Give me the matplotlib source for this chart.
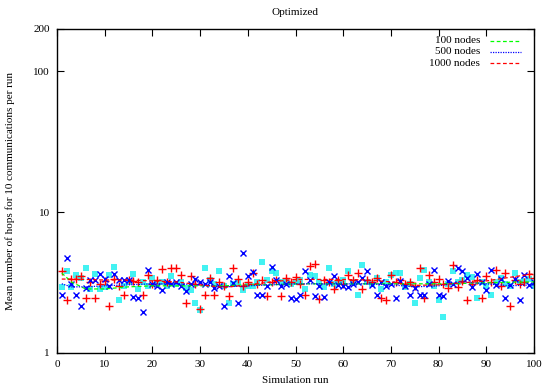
import matplotlib
matplotlib.use("Agg")
import matplotlib.pyplot as plt
from matplotlib.lines import Line2D

plt.rcParams['font.family'] = ['Liberation Serif', 'DejaVu Serif']

runs = list(range(1, 101))

# 1000 nodes (red +)
hops_1000 = [3.82, 2.37, 3.33, 3.33, 3.5, 2.46, 3.2, 2.46, 3.1, 3.25,
             2.16, 3.33, 3.0, 2.57, 3.3, 3.25, 3.2, 2.57, 3.56, 3.1,
             3.3, 3.98, 3.2, 4.0, 4.0, 3.6, 2.25, 3.5, 3.1, 2.05,
             2.57, 3.4, 2.6, 3.2, 3.0, 2.55, 4.0, 3.33, 3.0, 3.2,
             3.7, 3.1, 3.3, 2.55, 3.2, 3.3, 2.55, 3.4, 3.2, 3.45,
             3.1, 2.6, 4.15, 4.3, 2.4, 3.3, 3.2, 2.87, 3.3, 3.1,
             3.6, 3.3, 3.7, 2.84, 3.3, 3.2, 3.4, 2.46, 2.37, 3.6,
             3.2, 3.3, 3.1, 3.2, 3.0, 4.0, 2.46, 3.6, 3.2, 3.35,
             3.1, 2.9, 4.2, 2.94, 3.25, 2.37, 3.1, 3.3, 2.46, 3.5,
             3.2, 3.9, 3.0, 3.7, 2.16, 3.3, 3.1, 3.2, 3.65, 3.4]

# 500 nodes (blue x)
hops_500 = [2.57, 4.75, 3.1, 2.57, 2.16, 2.9, 3.3, 3.3, 3.65, 3.37,
            3.0, 3.65, 3.3, 3.3, 3.3, 2.5, 2.46, 1.97, 3.9, 3.1,
            3.0, 2.8, 3.2, 3.1, 3.2, 3.0, 2.75, 3.1, 3.37, 3.2,
            3.1, 3.2, 2.9, 3.0, 2.17, 3.5, 3.15, 2.25, 5.1, 3.5,
            3.75, 2.6, 2.6, 3.0, 4.1, 3.3, 3.0, 3.1, 2.46, 2.4,
            2.57, 3.8, 3.3, 2.55, 3.0, 2.5, 3.2, 3.5, 3.05, 3.0,
            2.95, 3.1, 3.2, 3.4, 3.85, 3.05, 2.6, 3.2, 3.0, 3.1,
            2.46, 3.25, 3.0, 2.57, 2.9, 2.57, 2.57, 3.1, 3.9, 2.6,
            2.55, 3.25, 3.1, 4.0, 3.85, 3.4, 2.94, 3.65, 3.2, 2.8,
            3.9, 3.05, 3.37, 2.46, 3.05, 3.37, 2.37, 3.56, 3.05, 3.2]

# 100 nodes (cyan squares)
hops_100 = [2.94, 3.82, 2.94, 3.56, 3.4, 4.0, 2.87, 3.65, 2.87, 2.94,
            3.56, 4.07, 2.37, 3.0, 3.2, 3.65, 2.87, 3.2, 3.0, 3.4,
            3.1, 3.2, 3.0, 3.5, 3.1, 3.2, 2.9, 2.8, 2.25, 2.01,
            4.0, 3.3, 3.1, 3.85, 3.0, 2.25, 3.1, 3.2, 2.8, 3.0,
            3.0, 3.2, 4.4, 3.3, 3.85, 3.7, 3.2, 3.2, 3.1, 3.2,
            3.3, 2.87, 3.6, 3.5, 3.2, 2.94, 4.0, 3.1, 3.2, 3.3,
            3.85, 3.2, 2.6, 4.2, 3.2, 3.1, 3.4, 2.87, 3.2, 3.56,
            3.7, 3.7, 2.94, 3.1, 2.25, 3.4, 3.9, 3.2, 3.0, 2.37,
            1.8, 3.1, 3.85, 3.2, 3.3, 3.56, 3.45, 2.46, 3.2, 3.0,
            2.57, 3.2, 3.4, 3.1, 3.0, 3.7, 3.2, 3.25, 3.37, 3.0]

# smoothed trend curves
trend_x = [1, 3, 6, 10, 15, 20, 25, 30, 35, 40, 45, 50, 55, 60, 65, 70, 75, 80, 85, 90, 95, 100]
trend_100 = [3.7, 3.2, 2.85, 2.85, 2.95, 3.0, 3.0, 3.0, 3.0, 3.05, 3.05, 3.1, 3.1, 3.1, 3.1, 3.1, 3.1, 3.1, 3.12, 3.15, 3.18, 3.2]
trend_500 = [3.1, 2.95, 2.95, 3.0, 3.05, 3.1, 3.1, 3.05, 2.95, 3.0, 3.05, 3.1, 3.1, 3.1, 3.1, 3.05, 2.95, 3.0, 3.2, 3.1, 3.0, 3.05]
trend_1000 = [3.35, 3.35, 3.33, 3.3, 3.3, 3.25, 3.2, 3.05, 2.92, 3.05, 3.2, 3.33, 3.33, 3.33, 3.3, 3.2, 3.02, 3.05, 3.15, 3.25, 3.45, 3.65]

labels = ["100 nodes", "500 nodes", "1000 nodes"]
line_colors = ["#00ff00", "#0000ff", "#ff0000"]
line_styles = [(0, (3, 2)), (0, (1, 1)), (0, (3, 2))]

fig = plt.figure(figsize=(5.43, 3.88), dpi=100)
ax = fig.add_axes([57 / 543, 35 / 388, (534 - 57) / 543, (353 - 29) / 388])

ax.plot(runs, hops_100, linestyle='none', marker='s', markersize=4.3,
        color='#22f0f0', markeredgewidth=0, alpha=0.85)
ax.plot(runs, hops_1000, linestyle='none', marker='+', markersize=5.5,
        color='#ff0000', markeredgewidth=1.0)
ax.plot(runs, hops_500, linestyle='none', marker='x', markersize=4.5,
        color='#0000ff', markeredgewidth=1.0)

trends = [trend_100, trend_500, trend_1000]
for tr, c, ls in zip(trends, line_colors, line_styles):
    ax.plot(trend_x, tr, color=c, linestyle=ls, linewidth=0.9)

ax.set_yscale('log')
ax.set_xlim(0, 100)
ax.set_ylim(1, 200)
ax.set_xticks(range(0, 101, 10))
ax.set_yticks([1, 10, 100, 200])
ax.set_yticklabels(['1', '10', '100', '200'])
ax.yaxis.set_minor_locator(matplotlib.ticker.NullLocator())
ax.tick_params(direction='in', top=True, right=True, length=5, width=0.8,
               labelsize=8, pad=5)
for s in ax.spines.values():
    s.set_linewidth(1.0)

ax.set_title("Optimized", fontsize=8, pad=10)
ax.set_xlabel("Simulation run", fontsize=8, labelpad=5)
ax.set_ylabel("Mean number of hops for 10 communications per run", fontsize=8, labelpad=13)

# gnuplot-style key: right-justified text then sample line
key_y = [40.7, 52.0, 63.0]
for lab, c, ls, yp in zip(labels, line_colors, line_styles, key_y):
    fy = 1 - yp / 388
    fig.text(480 / 543, fy, lab, ha='right', va='center', fontsize=8)
    fig.add_artist(Line2D([490 / 543, 521 / 543], [fy, fy], color=c,
                          linestyle=ls, linewidth=0.9))

fig.savefig("out.png", dpi=100)
